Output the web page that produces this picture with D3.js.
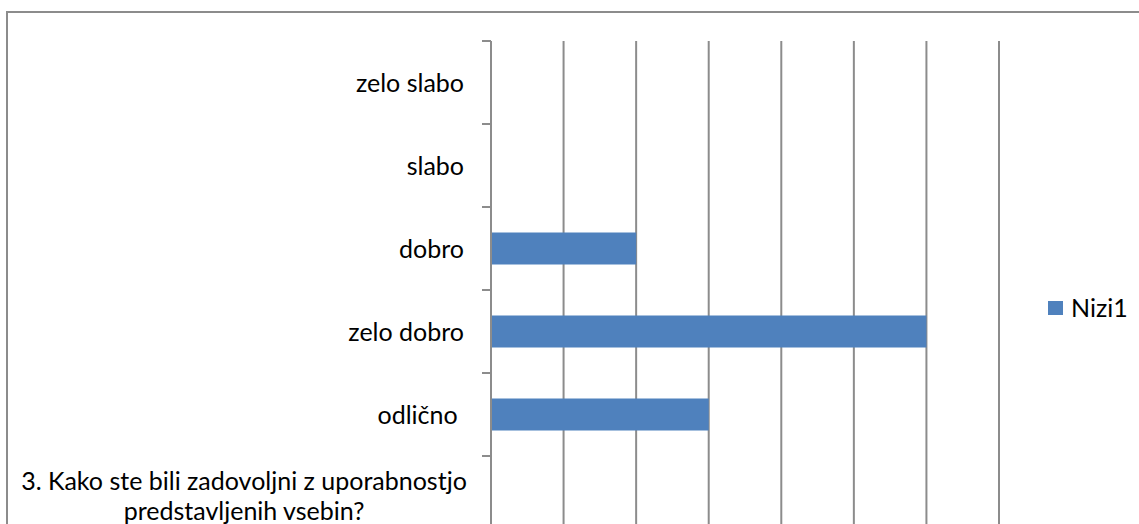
<!DOCTYPE html>
<html>
<head>
<meta charset="utf-8">
<script src="https://cdn.jsdelivr.net/npm/d3@7"></script>
<style>
  body { margin: 0; background: #fff; }
  svg { display: block; font-family: Lato, "Open Sans", sans-serif; }
</style>
</head>
<body>
<script>
// top to bottom, as shown on the axis
const categories = ['zelo slabo', 'slabo', 'dobro', 'zelo dobro', 'odlično ', '3. Kako ste bili zadovoljni z uporabnostjo predstavljenih vsebin?'];
const values = [null, null, 2, 6, 3, null];
const seriesName = 'Nizi1';
const xTicks = [0, 1, 2, 3, 4, 5, 6, 7];

const width = 1139;
const height = 524;
const BLUE = '#4f81bd';
const GREY = '#8c8c8c';

const svg = d3.select('body').append('svg')
  .attr('width', width)
  .attr('height', height);

// chart frame (right and bottom edges run off the picture)
svg.append('rect')
  .attr('x', 7).attr('y', 12)
  .attr('width', 1200).attr('height', 600)
  .attr('fill', 'none')
  .attr('stroke', GREY)
  .attr('stroke-width', 2);

const x = d3.scaleLinear().domain([0, 7]).range([491, 999]);
const band = d3.scaleBand().domain(categories).range([41, 539]);

// vertical gridlines
svg.append('g')
  .selectAll('line')
  .data(xTicks.slice(1))
  .join('line')
    .attr('x1', d => x(d)).attr('x2', d => x(d))
    .attr('y1', 41).attr('y2', 560)
    .attr('stroke', GREY)
    .attr('stroke-width', 2);

// bars
svg.append('g')
  .selectAll('rect')
  .data(categories.map((c, i) => ({ c, v: values[i] })).filter(d => d.v != null))
  .join('rect')
    .attr('x', x(0))
    .attr('y', d => band(d.c) + band.bandwidth() / 2 - 16)
    .attr('width', d => x(d.v) - x(0))
    .attr('height', 32)
    .attr('fill', BLUE);

// category axis with tick marks between categories
const axis = svg.append('g');
axis.append('line')
  .attr('x1', x(0)).attr('x2', x(0))
  .attr('y1', 41).attr('y2', 560)
  .attr('stroke', GREY).attr('stroke-width', 2);
axis.selectAll('.tick')
  .data(categories)
  .join('line')
    .attr('class', 'tick')
    .attr('x1', x(0) - 9).attr('x2', x(0))
    .attr('y1', d => band(d)).attr('y2', d => band(d))
    .attr('stroke', GREY).attr('stroke-width', 2);

// category labels
const labels = svg.append('g')
  .attr('font-size', 25)
  .attr('fill', '#000');
categories.slice(0, 5).forEach(c => {
  labels.append('text')
    .attr('x', 464)
    .attr('y', band(c) + band.bandwidth() / 2 + 9)
    .attr('text-anchor', 'end')
    .style('white-space', 'pre')
    .text(c);
});
// the long question label wraps onto two centred lines
const q = categories[5];
const qLines = ['3. Kako ste bili zadovoljni z uporabnostjo', 'predstavljenih vsebin?'];
labels.append('text')
  .attr('x', 244)
  .attr('text-anchor', 'middle')
  .selectAll('tspan')
  .data(qLines)
  .join('tspan')
    .attr('x', 244)
    .attr('y', (d, i) => band(q) + 34 + i * 30)
    .text(d => d);

// legend
const legend = svg.append('g');
legend.append('rect')
  .attr('x', 1048).attr('y', 301)
  .attr('width', 15).attr('height', 14)
  .attr('fill', BLUE);
legend.append('text')
  .attr('x', 1071).attr('y', 317)
  .attr('font-size', 25)
  .text(seriesName);
</script>
</body>
</html>
